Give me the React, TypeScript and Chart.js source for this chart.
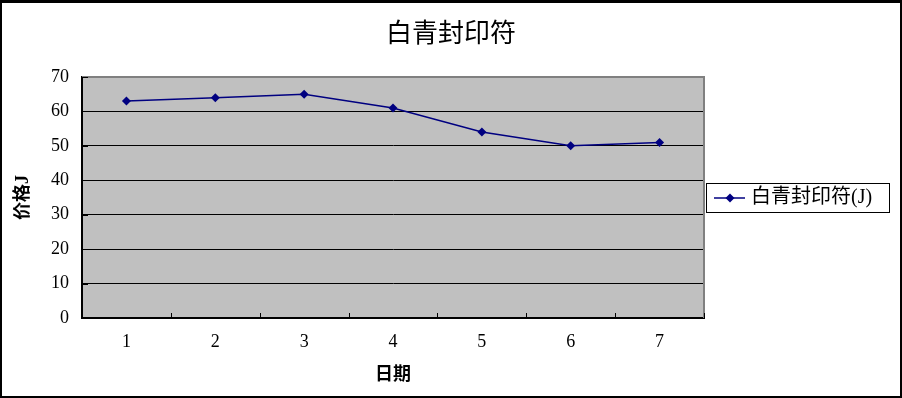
import React, { useEffect, useRef } from 'react';
import { Chart, registerables } from 'chart.js';

Chart.register(...registerables);

const chartTitle = '白青封印符';
const seriesLabel = '白青封印符(J)';
const xAxisTitle = '日期';
const yAxisTitle = '价格J';
const categories = ['1', '2', '3', '4', '5', '6', '7'];
const prices = [63, 64, 65, 61, 54, 50, 51];
const yMin = 0;
const yMax = 70;
const yStep = 10;

const SERIF_CJK = '"Liberation Serif", "Noto Sans CJK SC", serif';
const CJK = '"Noto Sans CJK SC", sans-serif';
const LINE_COLOR = '#000080';

const excelLook = {
  id: 'excelLook',
  beforeDraw(chart: any) {
    const { ctx, chartArea: a } = chart;
    ctx.save();
    ctx.fillStyle = '#C0C0C0';
    ctx.fillRect(a.left, a.top, a.right - a.left, a.bottom - a.top);
    ctx.restore();
  },
  beforeDatasetsDraw(chart: any) {
    const { ctx, chartArea: a, scales } = chart;
    ctx.save();
    ctx.strokeStyle = '#808080';
    ctx.lineWidth = 2;
    ctx.beginPath();
    ctx.moveTo(a.left, a.top);
    ctx.lineTo(a.right, a.top);
    ctx.lineTo(a.right, a.bottom);
    ctx.stroke();
    ctx.strokeStyle = '#000';
    ctx.lineWidth = 1;
    const xs = scales.x;
    ctx.beginPath();
    for (let i = 0; i <= categories.length; i++) {
      const px = Math.round(xs.getPixelForValue(i - 0.5)) + 0.5;
      ctx.moveTo(px, a.bottom);
      ctx.lineTo(px, a.bottom - 5);
    }
    const ys = scales.y;
    for (let v = yMin; v <= yMax; v += yStep) {
      const py = Math.round(ys.getPixelForValue(v)) + 0.5;
      ctx.moveTo(a.left, py);
      ctx.lineTo(a.left + 6, py);
    }
    ctx.stroke();
    ctx.restore();
  },
  afterDraw(chart: any) {
    const { ctx, chartArea: a } = chart;
    ctx.save();
    ctx.fillStyle = '#000';
    ctx.font = `26px ${CJK}`;
    ctx.textAlign = 'center';
    ctx.textBaseline = 'middle';
    ctx.fillText(chartTitle, chart.width / 2, 29);

    const ds = chart.data.datasets[0];
    const lx = a.right + 2;
    const lw = 183;
    const lh = 29;
    const cy = (a.top + a.bottom) / 2;
    const ly = Math.round(cy - lh / 2);
    ctx.fillStyle = '#fff';
    ctx.fillRect(lx, ly, lw, lh);
    ctx.strokeStyle = '#000';
    ctx.lineWidth = 1;
    ctx.strokeRect(lx + 0.5, ly + 0.5, lw, lh);
    const my = ly + lh / 2 + 0.5;
    ctx.strokeStyle = ds.borderColor;
    ctx.lineWidth = 1.5;
    ctx.beginPath();
    ctx.moveTo(lx + 8, my);
    ctx.lineTo(lx + 39, my);
    ctx.stroke();
    const mx = lx + 24;
    const r = 4.5;
    ctx.fillStyle = ds.pointBackgroundColor;
    ctx.beginPath();
    ctx.moveTo(mx, my - r);
    ctx.lineTo(mx + r, my);
    ctx.lineTo(mx, my + r);
    ctx.lineTo(mx - r, my);
    ctx.closePath();
    ctx.fill();
    ctx.fillStyle = '#000';
    ctx.font = `20px ${SERIF_CJK}`;
    ctx.textAlign = 'left';
    ctx.textBaseline = 'middle';
    ctx.fillText(ds.label, lx + 45, my);
    ctx.restore();
  },
};

export default function App() {
  const canvasRef = useRef<HTMLCanvasElement | null>(null);

  useEffect(() => {
    document.body.style.margin = '0';
    const canvas = canvasRef.current;
    if (!canvas) return;
    const chart = new Chart(canvas, {
      type: 'line',
      data: {
        labels: categories,
        datasets: [
          {
            label: seriesLabel,
            data: prices,
            borderColor: LINE_COLOR,
            backgroundColor: LINE_COLOR,
            pointBackgroundColor: LINE_COLOR,
            pointBorderColor: LINE_COLOR,
            pointStyle: 'rectRot',
            pointRadius: 4.5,
            pointBorderWidth: 0,
            borderWidth: 1.5,
            tension: 0,
            fill: false,
          },
        ],
      },
      options: {
        responsive: false,
        maintainAspectRatio: false,
        animation: false,
        devicePixelRatio: 1,
        layout: { padding: { left: 0, top: 74, right: 196, bottom: 0 } },
        plugins: {
          legend: { display: false },
          title: { display: false },
          tooltip: { enabled: false },
        },
        scales: {
          x: {
            type: 'category',
            offset: true,
            afterFit(scale: any) {
              scale.height = 78;
            },
            grid: { display: true, drawOnChartArea: false, drawTicks: false, offset: true },
            border: { display: true, color: '#000', width: 2 },
            ticks: {
              color: '#000',
              padding: 13,
              font: { family: SERIF_CJK, size: 18 },
              maxRotation: 0,
            },
            title: {
              display: true,
              text: xAxisTitle,
              color: '#000',
              font: { family: SERIF_CJK, size: 18, weight: 'bold' },
              padding: { top: 0, bottom: 10 },
            },
          },
          y: {
            min: yMin,
            max: yMax,
            afterFit(scale: any) {
              scale.width = 80;
            },
            grid: {
              color: (c: any) => (c.tick && c.tick.value === yMax ? '#808080' : '#000'),
              lineWidth: 1,
              drawTicks: false,
            },
            border: { display: true, color: '#000', width: 2 },
            ticks: {
              stepSize: yStep,
              color: '#000',
              padding: 13,
              font: { family: SERIF_CJK, size: 18 },
            },
            title: {
              display: true,
              text: yAxisTitle,
              color: '#000',
              font: { family: SERIF_CJK, size: 18, weight: 'bold' },
              padding: { top: 11, bottom: 0 },
            },
          },
        },
      },
      plugins: [excelLook],
    });
    return () => chart.destroy();
  }, []);

  return (
    <div
      style={{
        width: 902,
        height: 398,
        boxSizing: 'border-box',
        borderStyle: 'solid',
        borderColor: '#000',
        borderWidth: '3px 2px 2px 2px',
        background: '#fff',
      }}
    >
      <canvas ref={canvasRef} width={898} height={393} style={{ display: 'block' }} />
    </div>
  );
}
